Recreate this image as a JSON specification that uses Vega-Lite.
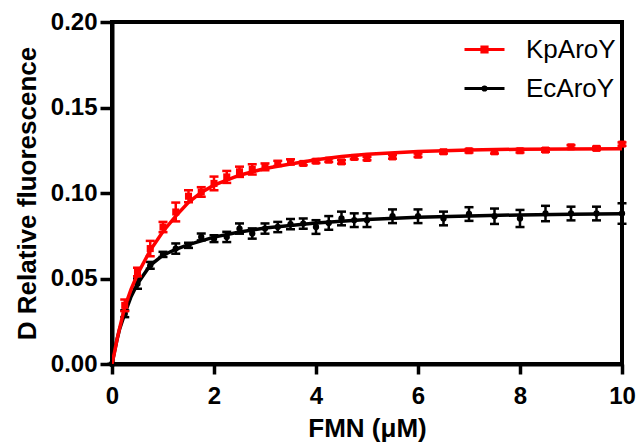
{
  "$schema": "https://vega.github.io/schema/vega-lite/v6.json",
  "width": 510,
  "height": 342,
  "autosize": {"type": "none"},
  "padding": {"left": 112, "top": 22, "right": 19, "bottom": 81},
  "background": "white",
  "config": {
    "view": {"stroke": "black", "strokeWidth": 4},
    "axis": {
      "grid": false,
      "domainColor": "black",
      "domainWidth": 4,
      "tickColor": "black",
      "tickWidth": 3.5,
      "labelFont": "Liberation Sans",
      "labelFontWeight": "bold",
      "labelFontSize": 24,
      "labelColor": "black",
      "titleFont": "Liberation Sans",
      "titleFontWeight": "bold",
      "titleFontSize": 26,
      "titleColor": "black"
    },
    "legend": {"labelFont": "Liberation Sans"}
  },
  "datasets": {
    "pts": [
      {"s": "KpAroY", "x": 0.25, "y": 0.0343, "err": 0.0034},
      {"s": "KpAroY", "x": 0.5, "y": 0.0538, "err": 0.0025},
      {"s": "KpAroY", "x": 0.75, "y": 0.0675, "err": 0.0045},
      {"s": "KpAroY", "x": 1.0, "y": 0.0801, "err": 0.003},
      {"s": "KpAroY", "x": 1.25, "y": 0.0889, "err": 0.0055},
      {"s": "KpAroY", "x": 1.5, "y": 0.0981, "err": 0.0035},
      {"s": "KpAroY", "x": 1.75, "y": 0.1006, "err": 0.0028},
      {"s": "KpAroY", "x": 2.0, "y": 0.1056, "err": 0.004},
      {"s": "KpAroY", "x": 2.25, "y": 0.1094, "err": 0.0035},
      {"s": "KpAroY", "x": 2.5, "y": 0.1124, "err": 0.003},
      {"s": "KpAroY", "x": 2.75, "y": 0.1138, "err": 0.003},
      {"s": "KpAroY", "x": 3.0, "y": 0.1153, "err": 0.002},
      {"s": "KpAroY", "x": 3.25, "y": 0.1173, "err": 0.0015},
      {"s": "KpAroY", "x": 3.5, "y": 0.1182, "err": 0.0015},
      {"s": "KpAroY", "x": 3.75, "y": 0.1173, "err": 0.001},
      {"s": "KpAroY", "x": 4.0, "y": 0.1186, "err": 0.001},
      {"s": "KpAroY", "x": 4.25, "y": 0.1192, "err": 0.001},
      {"s": "KpAroY", "x": 4.5, "y": 0.1182, "err": 0.001},
      {"s": "KpAroY", "x": 4.75, "y": 0.1208, "err": 0.001},
      {"s": "KpAroY", "x": 5.0, "y": 0.1202, "err": 0.001},
      {"s": "KpAroY", "x": 5.5, "y": 0.1211, "err": 0.001},
      {"s": "KpAroY", "x": 6.0, "y": 0.1221, "err": 0.001},
      {"s": "KpAroY", "x": 6.5, "y": 0.1241, "err": 0.001},
      {"s": "KpAroY", "x": 7.0, "y": 0.1247, "err": 0.001},
      {"s": "KpAroY", "x": 7.5, "y": 0.1241, "err": 0.001},
      {"s": "KpAroY", "x": 8.0, "y": 0.1247, "err": 0.001},
      {"s": "KpAroY", "x": 8.5, "y": 0.1251, "err": 0.001},
      {"s": "KpAroY", "x": 9.0, "y": 0.127, "err": 0.001},
      {"s": "KpAroY", "x": 9.5, "y": 0.1261, "err": 0.001},
      {"s": "KpAroY", "x": 10.0, "y": 0.1286, "err": 0.001},
      {"s": "EcAroY", "x": 0, "y": 0, "err": 0},
      {"s": "EcAroY", "x": 0.25, "y": 0.0294, "err": 0.002},
      {"s": "EcAroY", "x": 0.5, "y": 0.047, "err": 0.003},
      {"s": "EcAroY", "x": 0.75, "y": 0.0577, "err": 0.002},
      {"s": "EcAroY", "x": 1.0, "y": 0.0641, "err": 0.0015},
      {"s": "EcAroY", "x": 1.25, "y": 0.0675, "err": 0.003},
      {"s": "EcAroY", "x": 1.5, "y": 0.0694, "err": 0.0015},
      {"s": "EcAroY", "x": 1.75, "y": 0.0743, "err": 0.002},
      {"s": "EcAroY", "x": 2.0, "y": 0.0733, "err": 0.002},
      {"s": "EcAroY", "x": 2.25, "y": 0.0743, "err": 0.003},
      {"s": "EcAroY", "x": 2.5, "y": 0.0792, "err": 0.003},
      {"s": "EcAroY", "x": 2.75, "y": 0.0763, "err": 0.003},
      {"s": "EcAroY", "x": 3.0, "y": 0.0792, "err": 0.003},
      {"s": "EcAroY", "x": 3.25, "y": 0.0801, "err": 0.003},
      {"s": "EcAroY", "x": 3.5, "y": 0.0818, "err": 0.003},
      {"s": "EcAroY", "x": 3.75, "y": 0.0821, "err": 0.003},
      {"s": "EcAroY", "x": 4.0, "y": 0.0801, "err": 0.004},
      {"s": "EcAroY", "x": 4.25, "y": 0.0825, "err": 0.004},
      {"s": "EcAroY", "x": 4.5, "y": 0.0851, "err": 0.004},
      {"s": "EcAroY", "x": 4.75, "y": 0.0841, "err": 0.004},
      {"s": "EcAroY", "x": 5.0, "y": 0.0841, "err": 0.004},
      {"s": "EcAroY", "x": 5.5, "y": 0.0864, "err": 0.004},
      {"s": "EcAroY", "x": 6.0, "y": 0.0864, "err": 0.004},
      {"s": "EcAroY", "x": 6.5, "y": 0.0851, "err": 0.004},
      {"s": "EcAroY", "x": 7.0, "y": 0.0877, "err": 0.004},
      {"s": "EcAroY", "x": 7.5, "y": 0.0864, "err": 0.0045},
      {"s": "EcAroY", "x": 8.0, "y": 0.0851, "err": 0.005},
      {"s": "EcAroY", "x": 8.5, "y": 0.088, "err": 0.0045},
      {"s": "EcAroY", "x": 9.0, "y": 0.088, "err": 0.004},
      {"s": "EcAroY", "x": 9.5, "y": 0.088, "err": 0.004},
      {"s": "EcAroY", "x": 10.0, "y": 0.088, "err": 0.006}
    ],
    "fit": [
      {"s": "KpAroY", "x": 0, "y": 0},
      {"s": "KpAroY", "x": 0.05, "y": 0.007},
      {"s": "KpAroY", "x": 0.1, "y": 0.0145},
      {"s": "KpAroY", "x": 0.15, "y": 0.021},
      {"s": "KpAroY", "x": 0.25, "y": 0.0333},
      {"s": "KpAroY", "x": 0.375, "y": 0.0438},
      {"s": "KpAroY", "x": 0.5, "y": 0.0525},
      {"s": "KpAroY", "x": 0.75, "y": 0.0665},
      {"s": "KpAroY", "x": 1.0, "y": 0.0775},
      {"s": "KpAroY", "x": 1.25, "y": 0.0865},
      {"s": "KpAroY", "x": 1.5, "y": 0.0945},
      {"s": "KpAroY", "x": 1.75, "y": 0.1003},
      {"s": "KpAroY", "x": 2.0, "y": 0.1046},
      {"s": "KpAroY", "x": 2.5, "y": 0.1104},
      {"s": "KpAroY", "x": 3.0, "y": 0.1143},
      {"s": "KpAroY", "x": 3.5, "y": 0.117},
      {"s": "KpAroY", "x": 4.0, "y": 0.1195},
      {"s": "KpAroY", "x": 4.5, "y": 0.1213},
      {"s": "KpAroY", "x": 5.0, "y": 0.1226},
      {"s": "KpAroY", "x": 6.0, "y": 0.1243},
      {"s": "KpAroY", "x": 7.0, "y": 0.1252},
      {"s": "KpAroY", "x": 8.0, "y": 0.1256},
      {"s": "KpAroY", "x": 9.0, "y": 0.1258},
      {"s": "KpAroY", "x": 10.0, "y": 0.1259},
      {"s": "EcAroY", "x": 0, "y": 0},
      {"s": "EcAroY", "x": 0.05, "y": 0.0075},
      {"s": "EcAroY", "x": 0.1, "y": 0.0145},
      {"s": "EcAroY", "x": 0.15, "y": 0.0205},
      {"s": "EcAroY", "x": 0.25, "y": 0.0294},
      {"s": "EcAroY", "x": 0.375, "y": 0.0395},
      {"s": "EcAroY", "x": 0.5, "y": 0.047},
      {"s": "EcAroY", "x": 0.75, "y": 0.0577},
      {"s": "EcAroY", "x": 1.0, "y": 0.0636},
      {"s": "EcAroY", "x": 1.25, "y": 0.0671},
      {"s": "EcAroY", "x": 1.5, "y": 0.0698},
      {"s": "EcAroY", "x": 2.0, "y": 0.0742},
      {"s": "EcAroY", "x": 2.5, "y": 0.0772},
      {"s": "EcAroY", "x": 3.0, "y": 0.0795},
      {"s": "EcAroY", "x": 3.5, "y": 0.081},
      {"s": "EcAroY", "x": 4.0, "y": 0.0825},
      {"s": "EcAroY", "x": 5.0, "y": 0.0845},
      {"s": "EcAroY", "x": 6.0, "y": 0.0858},
      {"s": "EcAroY", "x": 7.0, "y": 0.0866},
      {"s": "EcAroY", "x": 8.0, "y": 0.0872},
      {"s": "EcAroY", "x": 9.0, "y": 0.0876},
      {"s": "EcAroY", "x": 10.0, "y": 0.0879}
    ]
  },
  "encoding": {
    "x": {
      "field": "x",
      "type": "quantitative",
      "scale": {"domain": [0, 10], "nice": false, "zero": false},
      "axis": {
        "values": [0, 2, 4, 6, 8, 10],
        "tickSize": 10,
        "labelPadding": 10,
        "labelFlush": false,
        "title": "FMN (μM)",
        "titleBaseline": "alphabetic",
        "titleY": 72
      }
    },
    "y": {
      "field": "y",
      "type": "quantitative",
      "scale": {"domain": [0, 0.2], "nice": false},
      "axis": {
        "values": [0, 0.05, 0.1, 0.15, 0.2],
        "format": ".2f",
        "tickSize": 12,
        "labelPadding": 3,
        "labelFlush": false,
        "title": "D Relative fluorescence",
        "titleBaseline": "alphabetic",
        "titleAngle": -90,
        "titleX": -77,
        "titleY": 171
      }
    }
  },
  "layer": [
    {
      "data": {"name": "fit"},
      "transform": [{"filter": "datum.s === 'EcAroY'"}],
      "mark": {"type": "line", "color": "black", "strokeWidth": 3.5, "clip": true}
    },
    {
      "data": {"name": "pts"},
      "transform": [{"filter": "datum.s === 'EcAroY'"}],
      "mark": {"type": "errorbar", "ticks": {"opacity": 1, "color": "black"}, "rule": {"opacity": 1, "color": "black"}, "size": 9, "thickness": 2.5, "color": "black", "opacity": 1},
      "encoding": {"yError": {"field": "err"}}
    },
    {
      "data": {"name": "pts"},
      "transform": [{"filter": "datum.s === 'EcAroY'"}],
      "mark": {"type": "point", "shape": "circle", "filled": true, "size": 40, "color": "black", "opacity": 1}
    },
    {
      "data": {"name": "fit"},
      "transform": [{"filter": "datum.s === 'KpAroY'"}],
      "mark": {"type": "line", "color": "#ff0000", "strokeWidth": 3.5, "clip": true}
    },
    {
      "data": {"name": "pts"},
      "transform": [{"filter": "datum.s === 'KpAroY'"}],
      "mark": {"type": "errorbar", "ticks": {"opacity": 1, "color": "#ff0000"}, "rule": {"opacity": 1, "color": "#ff0000"}, "size": 9, "thickness": 2.5, "color": "#ff0000", "opacity": 1},
      "encoding": {"yError": {"field": "err"}}
    },
    {
      "data": {"name": "pts"},
      "transform": [{"filter": "datum.s === 'KpAroY'"}],
      "mark": {"type": "point", "shape": "square", "filled": true, "size": 50, "color": "#ff0000", "opacity": 1}
    },
    {
      "data": {"name": "pts"},
      "mark": {"type": "point", "filled": true, "opacity": 0},
      "encoding": {
        "fill": {
          "field": "s", "type": "nominal",
          "scale": {"domain": ["KpAroY", "EcAroY"], "range": ["#ff0000", "#000000"]},
          "legend": {"orient": "none", "legendX": 351, "legendY": 6, "title": null, "padding": 0, "symbolSize": 1600, "symbolStrokeWidth": 3, "symbolOpacity": 1, "labelFontSize": 26, "labelColor": "black", "labelOffset": 20, "rowPadding": 4}
        },
        "stroke": {
          "field": "s", "type": "nominal",
          "scale": {"domain": ["KpAroY", "EcAroY"], "range": ["#ff0000", "#000000"]},
          "legend": {"orient": "none", "legendX": 351, "legendY": 6, "title": null, "padding": 0, "symbolSize": 1600, "symbolStrokeWidth": 3, "symbolOpacity": 1, "labelFontSize": 26, "labelColor": "black", "labelOffset": 20, "rowPadding": 4}
        },
        "shape": {
          "field": "s", "type": "nominal",
          "scale": {"domain": ["KpAroY", "EcAroY"], "range": ["M-1,0H1M-0.13,-0.13H0.13V0.13H-0.13Z", "M-1,0H1M-0.08,0A0.08,0.08 0 1,0 0.08,0A0.08,0.08 0 1,0 -0.08,0Z"]},
          "legend": {"orient": "none", "legendX": 351, "legendY": 6, "title": null, "padding": 0, "symbolSize": 1600, "symbolStrokeWidth": 3, "symbolOpacity": 1, "labelFontSize": 26, "labelColor": "black", "labelOffset": 20, "rowPadding": 4}
        }
      }
    }
  ]
}
